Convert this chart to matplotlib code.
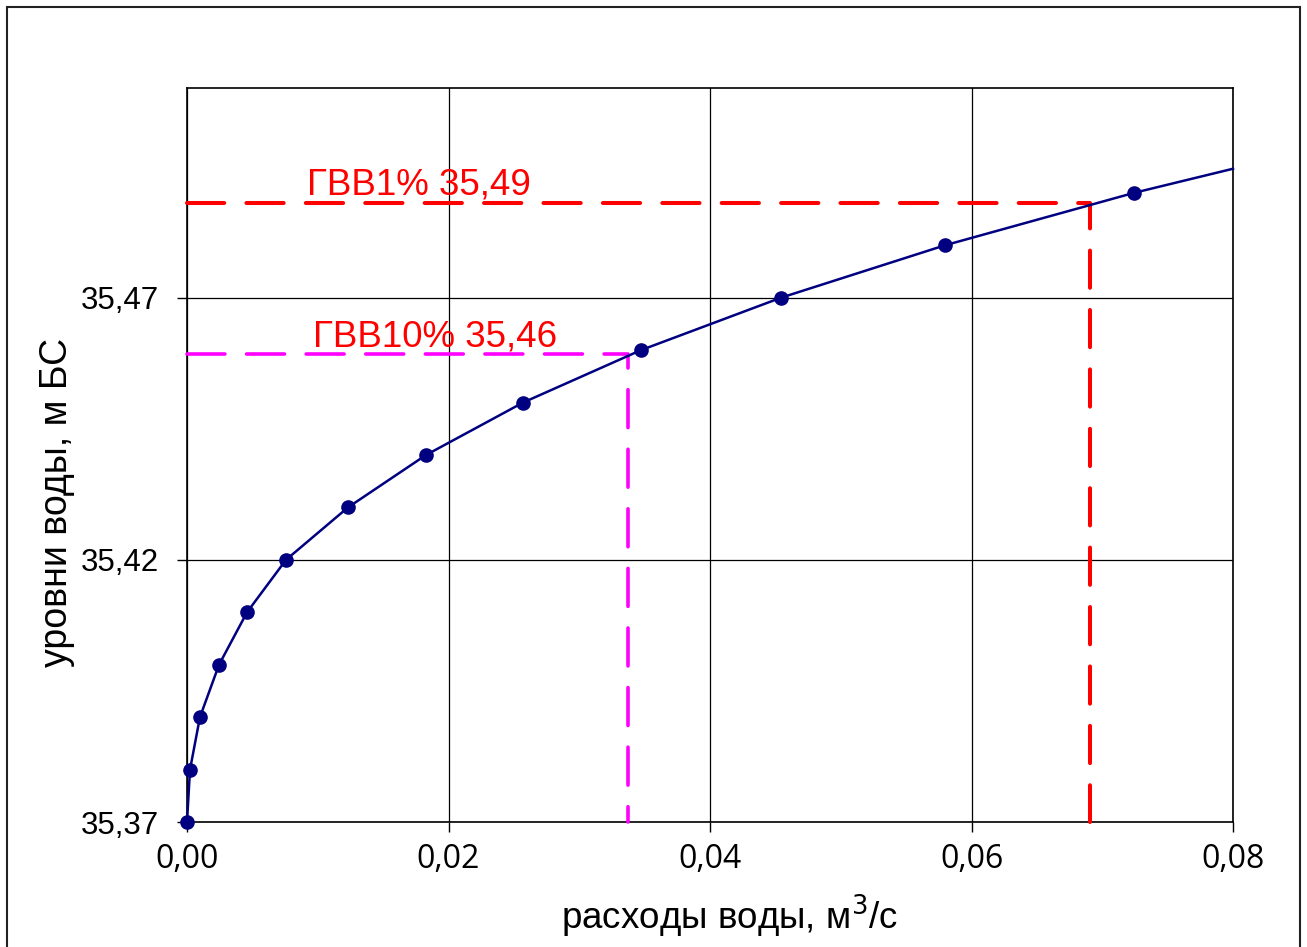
import numpy as np
import matplotlib
matplotlib.use('Agg')
from matplotlib import pyplot as plt
from matplotlib.patches import Rectangle

# кривая расходов Q = f(H)
flow = [0.0, 0.00023, 0.00099, 0.00245, 0.00459, 0.00757, 0.01231,
        0.01828, 0.02570, 0.03472, 0.04543, 0.05797, 0.07243]
level = [35.37, 35.38, 35.39, 35.40, 35.41, 35.42, 35.43,
         35.44, 35.45, 35.46, 35.47, 35.48, 35.49]
# продолжение кривой до края графика
curve_end_x = [0.08]
curve_end_y = [35.4946]

# ГВВ
gvv1_q, gvv1_h = 0.0691, 35.488
gvv10_q, gvv10_h = 0.03373, 35.4593

xticks = [0.0, 0.02, 0.04, 0.06, 0.08]
xticklabels = ['0,00', '0,02', '0,04', '0,06', '0,08']
yticks = [35.37, 35.42, 35.47]
yticklabels = ['35,37', '35,42', '35,47']

plt.rcParams['font.family'] = ['Liberation Sans', 'DejaVu Sans']

fig = plt.figure(figsize=(13.07, 9.47), dpi=100)
ax = fig.add_axes([187/1307, 1-822/947, (1233-187)/1307, (822-88)/947])

# рамка вокруг рисунка
fig.patches.append(Rectangle((7/1307, -0.05), (1300-7)/1307, 1.05-7/947,
                             transform=fig.transFigure, fill=False,
                             edgecolor='#222222', linewidth=1.5))

ax.plot(flow + curve_end_x, level + curve_end_y, color='#000080', lw=1.8,
        clip_on=False, zorder=4)
ax.plot(flow, level, 'o', color='#000080', ms=9.5, clip_on=False, zorder=5)

ax.plot([0, gvv1_q, gvv1_q], [gvv1_h, gvv1_h, 35.37], color='#ff0000', lw=2.9,
        dashes=(9.25, 5.5), dash_capstyle='round', zorder=3, clip_on=False)
ax.plot([0, gvv10_q, gvv10_q], [gvv10_h, gvv10_h, 35.37], color='#ff00ff', lw=2.6,
        dashes=(10.5, 6.0), dash_capstyle='round', zorder=3, clip_on=False)

ax.text(0.00918, 35.4897, 'ГВВ1% 35,49', color='#ff0000', fontsize=26.5)
ax.text(0.00964, 35.4606, 'ГВВ10% 35,46', color='#ff0000', fontsize=26.5)

ax.set_xlim(0, 0.08)
ax.set_ylim(35.37, 35.51)
ax.set_xticks(xticks)
ax.set_xticklabels(xticklabels, fontsize=23, family=['Open Sans', 'DejaVu Sans'])
ax.set_yticks(yticks)
ax.set_yticklabels(yticklabels, fontsize=22.5)
ax.tick_params(direction='out', length=7, width=1, colors='black')
ax.tick_params(axis='y', pad=13)
ax.tick_params(axis='x', pad=8)
ax.grid(True, color='black', lw=0.9)
ax.set_axisbelow(True)
for s in ax.spines.values():
    s.set_linewidth(1.2)

ax.set_xlabel('расходы воды, м$^3$/с', fontsize=26.5, labelpad=12)
ax.set_ylabel('уровни воды, м БС', fontsize=27, labelpad=4)
ax.xaxis.label.set_x(0.519)
ax.yaxis.label.set_y(0.436)

plt.savefig('out.png', dpi=100)
